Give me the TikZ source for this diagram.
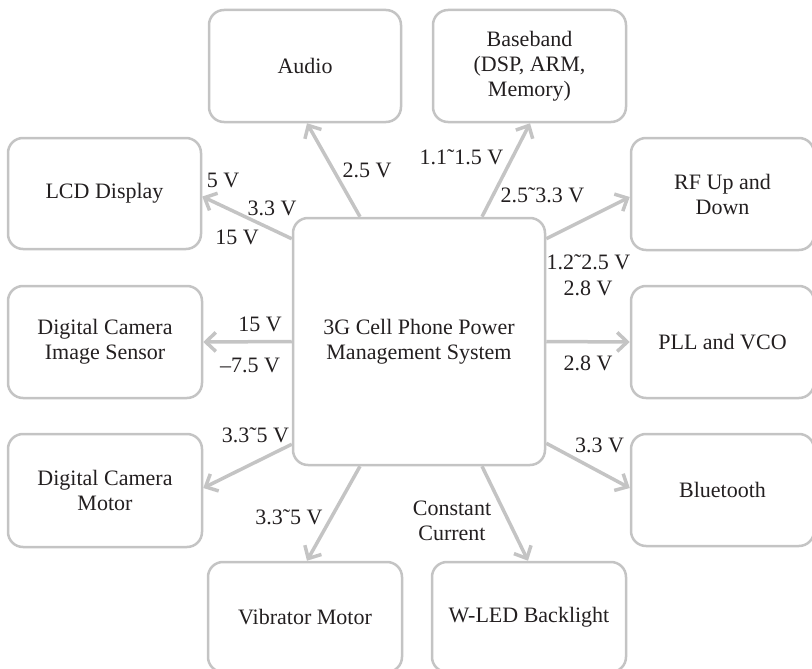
\documentclass[tikz,border=0pt]{standalone}
\usepackage{fontspec}
\setmainfont{Liberation Serif}
\usepackage{tikz}
\usetikzlibrary{arrows.meta}
\definecolor{boxgray}{RGB}{196,196,196}
\definecolor{txtgray}{RGB}{35,31,32}
\newcommand{\rng}{\symbol{"02DC}}

\begin{document}
\begin{tikzpicture}[x=1pt,y=-1pt,>={Straight Barb[length=10pt,width=19pt]},
		every node/.style={font=\fontsize{22}{25}\selectfont,text=txtgray},
		unit/.style={draw=boxgray,line width=2.5pt,rounded corners=15pt,align=center,inner sep=0pt},
		feed/.style={->,draw=boxgray,line width=3.5pt},
		volt/.style={inner sep=0pt,align=center}]
			\useasboundingbox (0,0) rectangle (812,669);
			% centre block
			\node[unit,minimum width=252pt,minimum height=247pt] (pms) at (419,341.5) {3G Cell Phone Power\\Management System};
			% loads
			\node[unit,minimum width=192pt,minimum height=112pt] (audio) at (305,66) {Audio};
			\node[unit,minimum width=193pt,minimum height=112pt] (base) at (529.5,66) {Baseband\\(DSP, ARM,\\Memory)};
			\node[unit,minimum width=193pt,minimum height=111pt] (lcd) at (104.5,193.5) {LCD Display};
			\node[unit,minimum width=183pt,minimum height=112pt] (rf) at (722.5,194) {RF Up and\\Down};
			\node[unit,minimum width=194pt,minimum height=112pt] (ims) at (105,342) {Digital Camera\\Image Sensor};
			\node[unit,minimum width=183pt,minimum height=112pt] (pll) at (722.5,342) {PLL and VCO};
			\node[unit,minimum width=194pt,minimum height=113pt] (mot) at (105,490.5) {Digital Camera\\Motor};
			\node[unit,minimum width=183pt,minimum height=112pt] (bt) at (722.5,490) {Bluetooth};
			\node[unit,minimum width=194pt,minimum height=110pt] (vib) at (305,617) {Vibrator Motor};
			\node[unit,minimum width=194pt,minimum height=110pt] (led) at (529,617) {W-LED Backlight};
			% supply lines
			\draw[feed] ([xshift=-59pt]pms.north) -- ([xshift=2pt]audio.south);
			\draw[feed] ([xshift=63pt]pms.north) -- ([xshift=0.5pt]base.south);
			\draw[feed] ([yshift=-22pt]pms.north west) -- ([yshift=-3pt]lcd.east);
			\draw[feed] ([yshift=-22pt]pms.north east) -- ([yshift=-3pt]rf.west);
			\draw[feed] (pms.west) -- (ims.east);
			\draw[feed] (pms.east) -- (pll.west);
			\draw[feed] ([yshift=22pt]pms.south west) -- ([yshift=2.5pt]mot.east);
			\draw[feed] ([yshift=23pt]pms.south east) -- ([yshift=2pt]bt.west);
			\draw[feed] ([xshift=-59pt]pms.south) -- ([xshift=2pt]vib.north);
			\draw[feed] ([xshift=63pt]pms.south) -- ([xshift=-1pt]led.north);
			% voltages
			\node[volt] (va) at (367,170) {2.5 V};
			\node[volt] (vl1) at (223,180) {5 V};
			\node[volt] (vl2) at (272,208) {3.3 V};
			\node[volt] (vl3) at (237,237) {15 V};
			\node[volt] (vb1) at (461.5,157) {1.1\rng1.5 V};
			\node[volt] (vb2) at (542.5,195) {2.5\rng3.3 V};
			\node[volt] (vr) at (588.5,262) {1.2\rng2.5 V};
			\node[volt] (vp1) at (588,288) {2.8 V};
			\node[volt] (vp2) at (588,363) {2.8 V};
			\node[volt] (vi1) at (260,324) {15 V};
			\node[volt] (vi2) at (250,365) {–7.5 V};
			\node[volt] (vm) at (255.5,435) {3.3\rng5 V};
			\node[volt] (vv) at (289,517) {3.3\rng5 V};
			\node[volt] (vbt) at (599.5,445) {3.3 V};
			\node[volt] (vw) at (452,521) {Constant\\Current};
		\end{tikzpicture}
\end{document}
